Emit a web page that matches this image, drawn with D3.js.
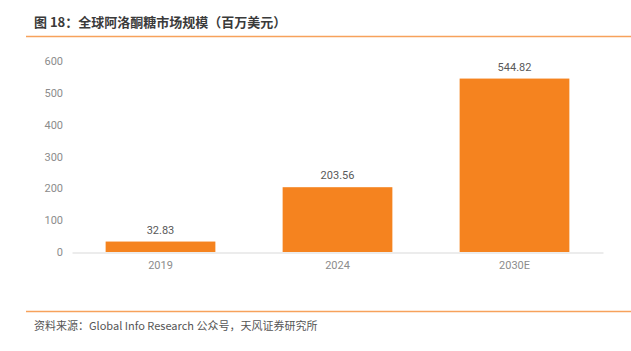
<!DOCTYPE html>
<html lang="zh">
  <head>
    <meta charset="utf-8">
    <script src="https://d3js.org/d3.v7.min.js"></script>
    <style>
      body { margin: 0; background: #fff; }
      text { font-family: "Noto Sans CJK SC", "Noto Sans", sans-serif; }
    </style>
  </head>
  <body>
    <svg width="631" height="351"></svg>
    <script>
      // chart data
      var years = ["2019", "2024", "2030E"];
      var marketSize = [32.83, 203.56, 544.82];
      var yTicks = [0, 100, 200, 300, 400, 500, 600];

      var svg = d3.select("svg");

      // title and top rule
      svg.append("text")
        .attr("x", 34).attr("y", 27)
        .style("font-size", "13px").style("font-weight", "bold")
        .attr("fill", "#3a3a3a")
        .text("图 18：全球阿洛酮糖市场规模（百万美元）");

      svg.append("line")
        .attr("x1", 26).attr("x2", 631).attr("y1", 36.5).attr("y2", 36.5)
        .attr("stroke", "#f7a25c").attr("stroke-width", 1.5);

      // scales
      var x = d3.scaleBand().domain(years).range([72, 603]).paddingInner(0.38).paddingOuter(0.19);
      var y = d3.scaleLinear().domain([0, 600]).range([252, 61]);

      // y axis labels (no line)
      var yAxis = svg.append("g")
        .attr("transform", "translate(63,0)")
        .call(d3.axisLeft(y).tickValues(yTicks).tickSize(0).tickPadding(0));
      yAxis.select(".domain").remove();
      yAxis.selectAll("text")
        .style("font-size", "11px").attr("fill", "#8c8c8c")
        .style("font-family", "Roboto, 'Noto Sans', sans-serif");

      // bars
      svg.append("g").selectAll("rect")
        .data(marketSize)
        .enter().append("rect")
        .attr("x", function (d, i) { return x(years[i]); })
        .attr("y", function (d) { return y(d); })
        .attr("width", x.bandwidth())
        .attr("height", function (d) { return y(0) - y(d); })
        .attr("fill", "#f5831f");

      // value labels
      svg.append("g").selectAll("text")
        .data(marketSize)
        .enter().append("text")
        .attr("x", function (d, i) { return x(years[i]) + x.bandwidth() / 2; })
        .attr("y", function (d) { return y(d) - 8; })
        .attr("text-anchor", "middle")
        .style("font-size", "11px").attr("fill", "#595959")
        .style("font-family", "Roboto, 'Noto Sans', sans-serif")
        .text(function (d) { return d.toFixed(2); });

      // x axis
      var xAxis = svg.append("g")
        .attr("transform", "translate(0,252.5)")
        .call(d3.axisBottom(x).tickSize(0).tickPadding(9));
      xAxis.select(".domain").attr("stroke", "#d9d9d9");
      xAxis.selectAll("text")
        .style("font-size", "11px").attr("fill", "#8c8c8c")
        .style("font-family", "Roboto, 'Noto Sans', sans-serif");

      // bottom rule and source
      svg.append("line")
        .attr("x1", 26).attr("x2", 631).attr("y1", 311.5).attr("y2", 311.5)
        .attr("stroke", "#f7a25c").attr("stroke-width", 1.5);

      svg.append("text")
        .attr("x", 34).attr("y", 330)
        .style("font-size", "11px").attr("fill", "#555")
        .text("资料来源：Global  Info Research 公众号，天风证券研究所");
    </script>
  </body>
</html>
